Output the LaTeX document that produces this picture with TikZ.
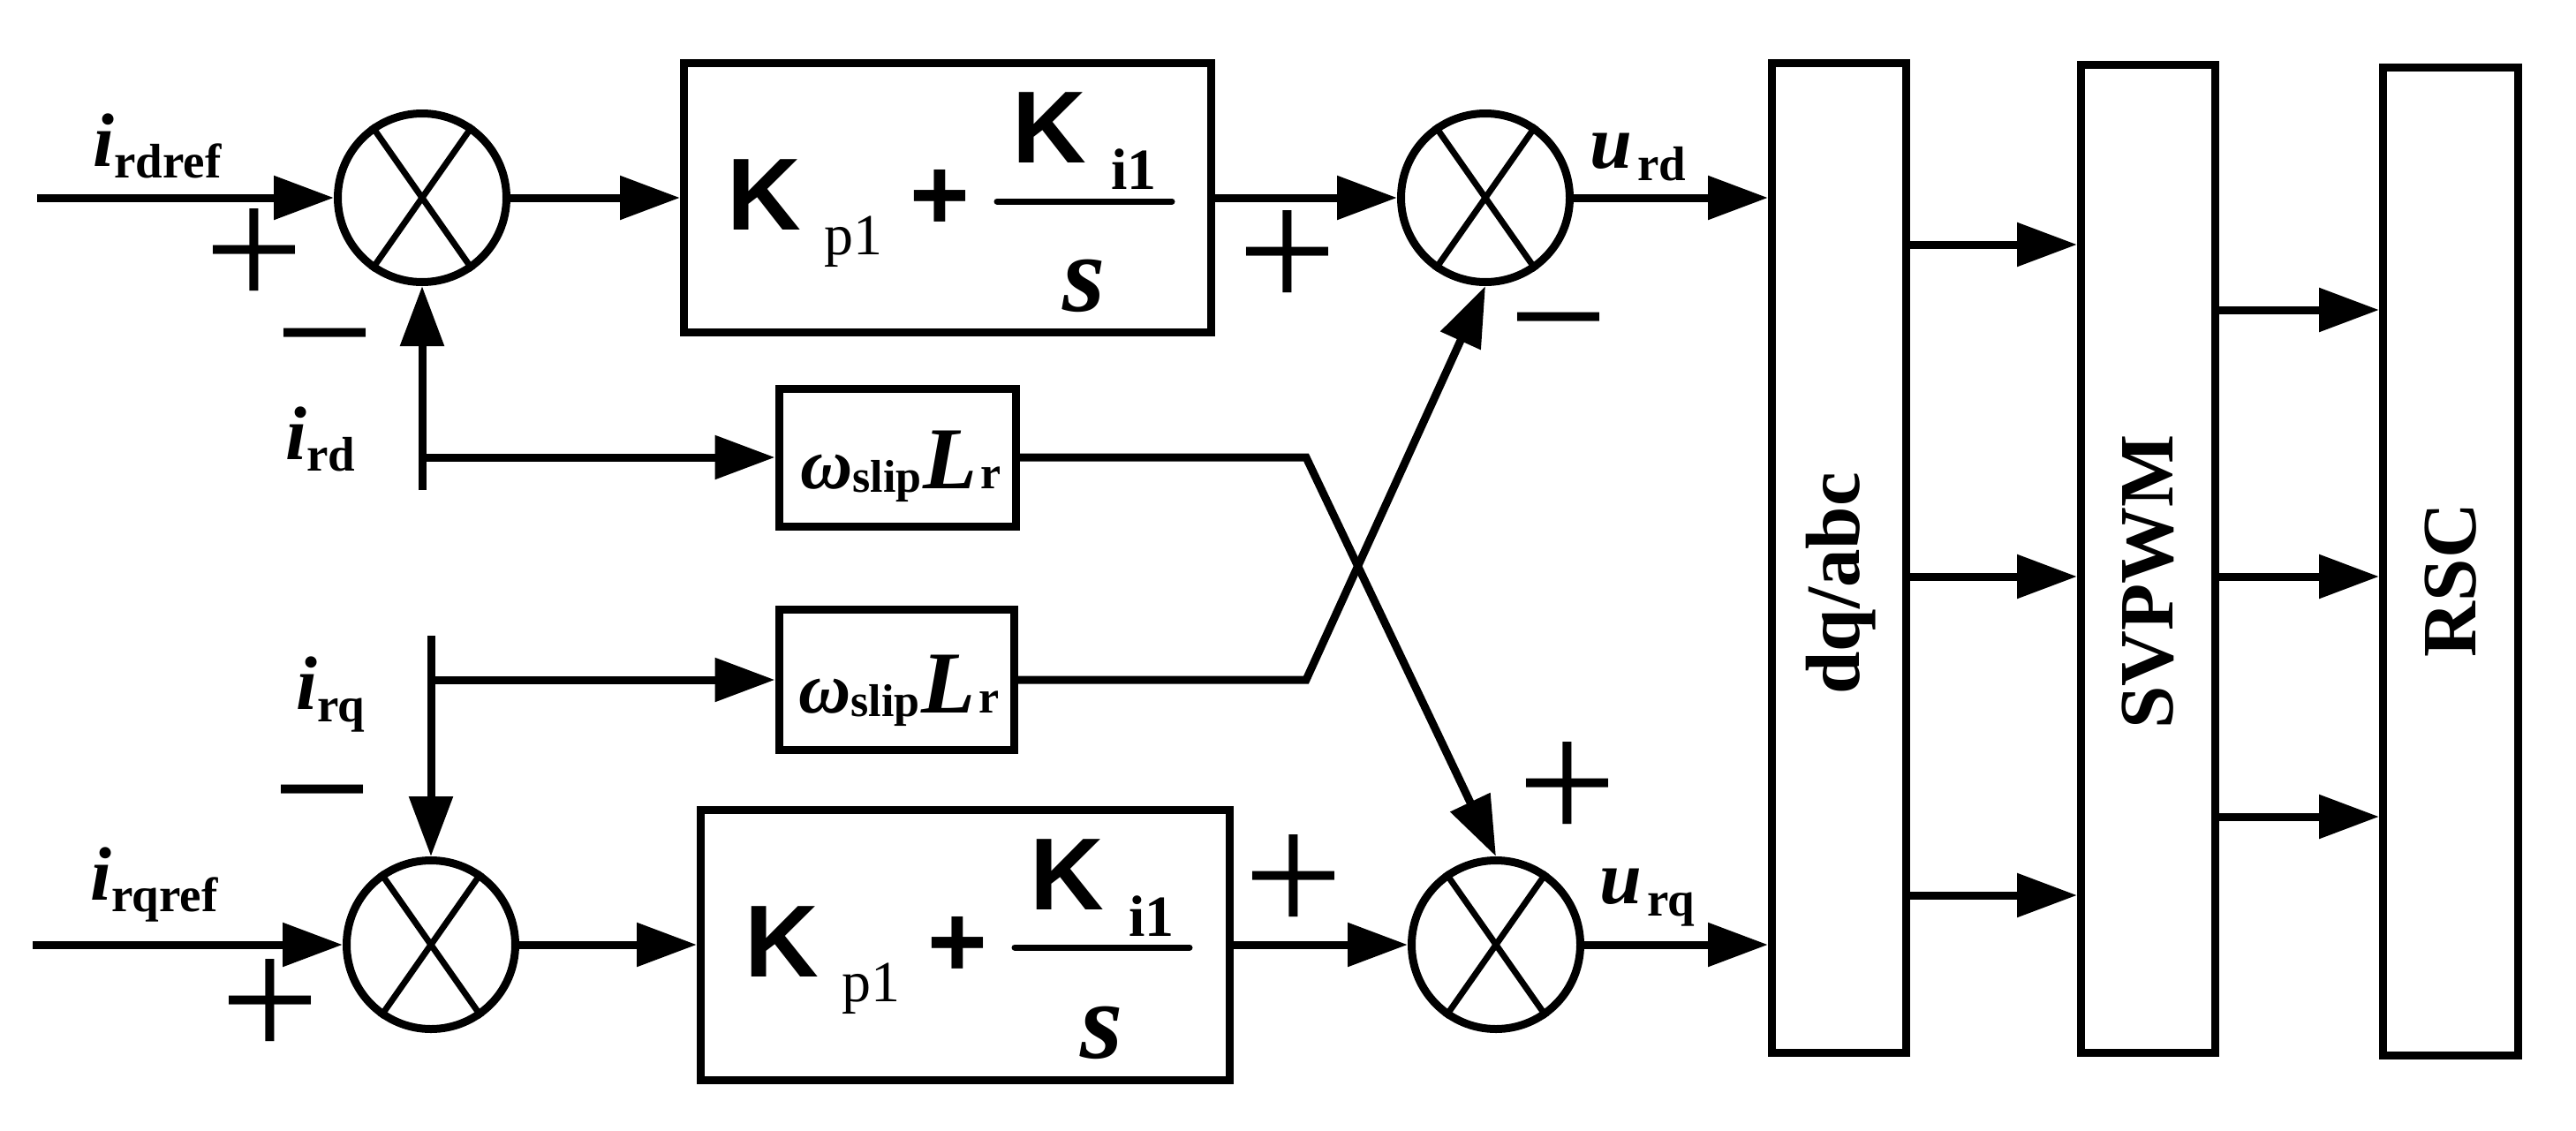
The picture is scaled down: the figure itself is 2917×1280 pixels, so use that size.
\documentclass[tikz,border=0pt]{standalone}
\usepackage{fontspec}
\setmainfont{Liberation Serif}
\newfontfamily\arialf{Liberation Sans}
\usetikzlibrary{arrows.meta}
\newcommand\fsz[1]{\fontsize{#1}{#1}\selectfont}
\newcommand\ilab[3]{{\fsz{43pt}\bfseries\itshape #1}\raisebox{-#3}{\fsz{27.5pt}\bfseries #2}}
\newcommand\wlab{{\fsz{41pt}\bfseries\itshape ω}\raisebox{-2pt}{\fsz{26pt}\bfseries slip}\hspace{1pt}{\fsz{50pt}\bfseries\itshape L}\hspace{2pt}{\fsz{26pt}\bfseries r}}
\tikzset{
  ln/.style={line width=4.5pt},
  arr/.style={ln,-{Triangle[length=34pt,width=24pt]}},
  xl/.style={line width=3.5pt},
  sumnode/.style={circle,draw,line width=4.5pt,minimum size=95.5pt,inner sep=0pt},
  blk/.style={draw,line width=4.5pt,inner sep=0pt},
  lbl/.style={inner sep=0pt,anchor=base west},
  sgn/.style={inner sep=0pt,anchor=base,text height=0pt,text depth=0pt,font=\fsz{100pt}},
  kfont/.style={inner sep=0pt,font=\arialf\bfseries\fsz{58pt}},
  rot/.style={rotate=90,inner sep=0pt,font=\bfseries\fsz{43.5pt}}
}
\begin{document}
\begin{tikzpicture}[x=0.5pt,y=-0.5pt]
\fill[white] (0,0) rectangle (2917,1280);
\useasboundingbox (0,0) rectangle (2917,1280);

% summing junctions
\node[sumnode] (S1) at (478,224) {};
\node[sumnode] (S2) at (1682,224) {};
\node[sumnode] (S3) at (488,1070) {};
\node[sumnode] (S4) at (1694,1070) {};
\foreach \s in {S1,S2,S3,S4} {
  \draw[xl] (\s.125) -- (\s.305);
  \draw[xl] (\s.55) -- (\s.235);
}

% blocks
\node[blk,minimum width=298.5pt,minimum height=152.5pt] (P1) at (1073,224) {};
\node[blk,minimum width=299.5pt,minimum height=153pt] (P2) at (1093,1070) {};
\node[blk,minimum width=134pt,minimum height=78pt] (W1) at (1016,518) {};
\node[blk,minimum width=133pt,minimum height=79.5pt] (W2) at (1015,770) {};
\node[blk,minimum width=76pt,minimum height=560.5pt] (DQ) at (2082.5,632) {};
\node[blk,minimum width=76pt,minimum height=559.5pt] (SV) at (2432.5,633) {};
\node[blk,minimum width=76.5pt,minimum height=559.5pt] (RSC) at (2775,636) {};

% free ends
\coordinate (inD) at (42,224);
\coordinate (inQ) at (37,1070);
\coordinate (ird) at (478,555);
\coordinate (brd) at (478,518);
\coordinate (irq) at (488,720);
\coordinate (brq) at (488,770);
\coordinate (c1) at (1479,518);
\coordinate (c2) at (1479,770);

% connectors
\draw[arr] (inD) -- (S1);
\draw[arr] (S1) -- (P1);
\draw[arr] (P1) -- (S2);
\draw[arr] (S2) -- (S2 -| DQ.west);
\draw[ln] (ird) -- (brd);
\draw[arr] (brd) -- (S1);
\draw[arr] (brd) -- (W1);
\draw[ln] (irq) -- (brq);
\draw[arr] (brq) -- (S3);
\draw[arr] (brq) -- (W2);
\draw[arr] (inQ) -- (S3);
\draw[arr] (S3) -- (P2);
\draw[arr] (P2) -- (S4);
\draw[arr] (S4) -- (S4 -| DQ.west);
\draw[arr] (W1.east) -- (c1) -- (S4.north);
\draw[arr] (W2.east) -- (c2) -- (S2.south);
\foreach \y in {277,653,1014} \draw[arr] (DQ.east |- 0,\y) -- (SV.west |- 0,\y);
\foreach \y in {351,653,925} \draw[arr] (SV.east |- 0,\y) -- (RSC.west |- 0,\y);

% PI block 1 text
\node[kfont,anchor=base west] (K1a) at (823,260) {K};
\node[lbl,font=\fsz{33pt}] (p1a) at (933,288) {p1};
\node[kfont,anchor=base] (pla) at (1064,260) {+};
\node[kfont,anchor=base west] (K2a) at (1146,184) {K};
\node[lbl,font=\bfseries\fsz{33pt}] (i1a) at (1258,214) {i1};
\draw[xl,line cap=round] (1129,228) -- (1327,228);
\node[inner sep=0pt,anchor=base,font=\bfseries\itshape\fsz{62pt}] (sa) at (1228,352) {s};

% PI block 2 text
\node[kfont,anchor=base west] (K1b) at (843,1106) {K};
\node[lbl,font=\fsz{33pt}] (p1b) at (953,1134) {p1};
\node[kfont,anchor=base] (plb) at (1084,1106) {+};
\node[kfont,anchor=base west] (K2b) at (1166,1030) {K};
\node[lbl,font=\bfseries\fsz{33pt}] (i1b) at (1278,1060) {i1};
\draw[xl,line cap=round] (1149,1073) -- (1347,1073);
\node[inner sep=0pt,anchor=base,font=\bfseries\itshape\fsz{62pt}] (sb) at (1248,1198) {s};

% omega_slip L_r
\node[inner sep=0pt,anchor=base] (wa) at (1020,553) {\wlab};
\node[inner sep=0pt,anchor=base] (wb) at (1018,807) {\wlab};

% signal labels
\node[lbl] (lrdref) at (105,188) {\ilab{i}{rdref}{6.5pt}};
\node[lbl] (lrd) at (323,520) {\ilab{i}{rd}{6.5pt}};
\node[lbl] (lrq) at (335,803) {\ilab{i}{rq}{7pt}};
\node[lbl] (lrqref) at (102,1019) {\ilab{i}{rqref}{6.5pt}};
\node[lbl] (lurd) at (1800,190) {\ilab{u\hspace{3pt}}{rd}{7pt}};
\node[lbl] (lurq) at (1811,1023) {\ilab{u\hspace{3pt}}{rq}{7pt}};

% signs
\node[sgn] (sg1) at (288,349) {+};
\node[sgn] (sg2) at (368,443) {−};
\node[sgn] (sg3) at (1458,351) {+};
\node[sgn] (sg4) at (1765,425) {−};
\node[sgn] (sg5) at (1775,953) {+};
\node[sgn] (sg6) at (1465,1058) {+};
\node[sgn] (sg7) at (365,960) {−};
\node[sgn] (sg8) at (306,1199) {+};

% vertical block texts
\node[rot] (tdq) at (2085,661) {dq/abc};
\node[rot] (tsv) at (2432,659) {SVPWM};
\node[rot] (trsc) at (2775,657) {RSC};
\end{tikzpicture}
\end{document}
